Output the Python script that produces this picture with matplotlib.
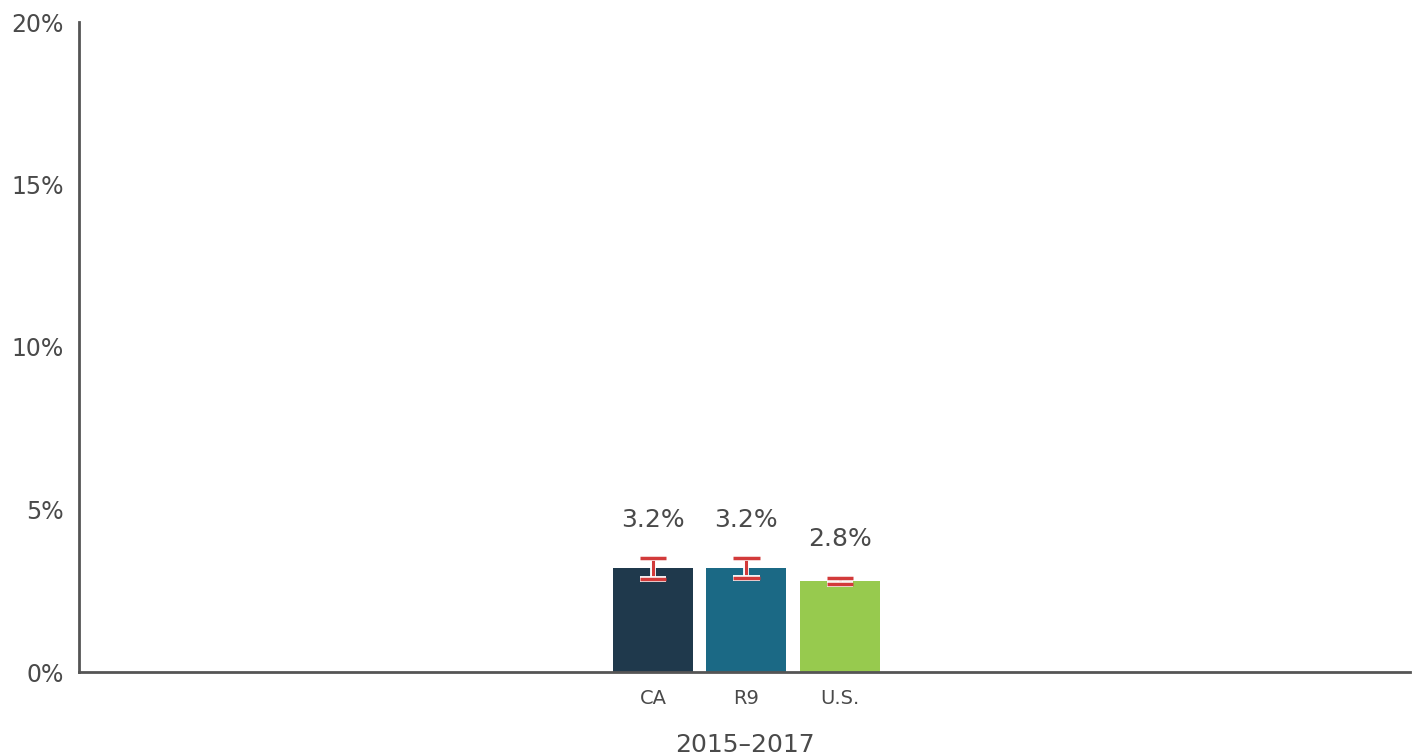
import matplotlib
matplotlib.use("Agg")
import matplotlib.pyplot as plt
import matplotlib.patheffects as pe
import numpy as np

categories = ["CA", "R9", "U.S."]
values = [3.2, 3.2, 2.8]
ci_low = [2.85, 2.9, 2.7]
ci_high = [3.5, 3.5, 2.9]
bar_colors = ["#1f394c", "#1b6985", "#97ca4e"]
period_label = "2015\u20132017"
yticks = [0, 5, 10, 15, 20]

text_color = "#4a4a4a"
axis_color = "#555555"

fig = plt.figure(figsize=(14.22, 7.55), dpi=100)
ax = fig.add_axes([79 / 1422, 1 - 672 / 755, (1410 - 79) / 1422, (672 - 22) / 755])

x = np.arange(len(categories)) - 1
ax.bar(x, values, width=0.855, color=bar_colors, zorder=2)

err = [np.array(values) - np.array(ci_low), np.array(ci_high) - np.array(values)]
eb = ax.errorbar(x, values, yerr=err, fmt="none", ecolor="#d23a3a",
                 elinewidth=2.2, capsize=9.5, capthick=2.5, zorder=3)
outline = [pe.Stroke(linewidth=4.2, foreground="white"), pe.Normal()]
for artist in list(eb.lines[1]) + list(eb.lines[2]):
    artist.set_path_effects(outline)

for xi, v, hi in zip(x, values, ci_high):
    ax.annotate(f"{v:.1f}%", (xi, hi), xytext=(0, 19), textcoords="offset points",
                ha="center", va="bottom", fontsize=18, color=text_color)

ax.set_xlim(-7.14, 7.10)
ax.set_ylim(0, 20)
ax.set_yticks(yticks)
ax.set_yticklabels([f"{t}%" for t in yticks], fontsize=17, color=text_color)
ax.set_xticks(x)
ax.set_xticklabels(categories, fontsize=14, color=text_color)
ax.tick_params(axis="both", length=0)
ax.tick_params(axis="x", pad=12)
ax.tick_params(axis="y", pad=11)
ax.set_xlabel(period_label, fontsize=18, color=text_color, labelpad=18)

for side in ["top", "right"]:
    ax.spines[side].set_visible(False)
for side in ["left", "bottom"]:
    ax.spines[side].set_color(axis_color)
    ax.spines[side].set_linewidth(2.0)

fig.savefig("out.png", dpi=100, facecolor="white")
